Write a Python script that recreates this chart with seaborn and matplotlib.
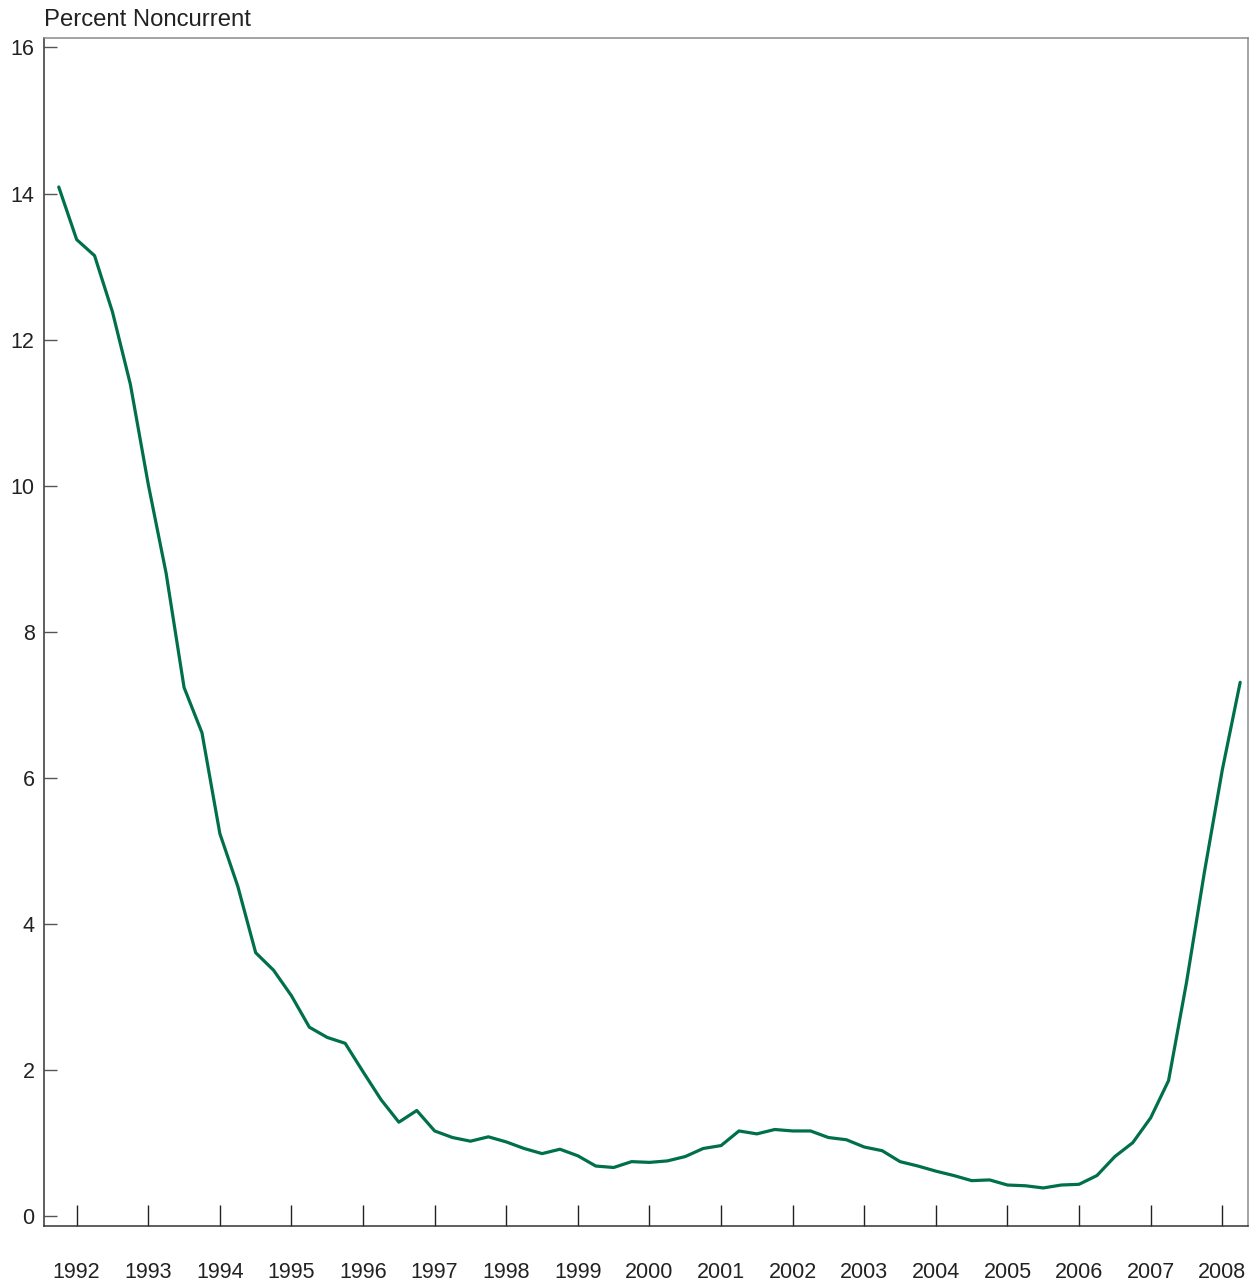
import numpy as np
import pandas as pd
import matplotlib
matplotlib.use("Agg")
import matplotlib.pyplot as plt
import seaborn as sns

# quarterly noncurrent rate, 1991Q4 .. 2008Q2
quarters = [1991.75 + 0.25 * i for i in range(67)]
noncurrent = [14.09, 13.37, 13.15, 12.38, 11.39, 10.02, 8.80, 7.24, 6.62, 5.24,
              4.52, 3.61, 3.37, 3.02, 2.59, 2.45, 2.37, 1.98, 1.60, 1.29,
              1.45, 1.17, 1.08, 1.03, 1.09, 1.02, 0.93, 0.86, 0.92, 0.83,
              0.69, 0.67, 0.75, 0.74, 0.76, 0.82, 0.93, 0.97, 1.17, 1.13,
              1.19, 1.17, 1.17, 1.08, 1.05, 0.95, 0.90, 0.75, 0.69, 0.62,
              0.56, 0.49, 0.50, 0.43, 0.42, 0.39, 0.43, 0.44, 0.56, 0.82,
              1.01, 1.35, 1.86, 3.20, 4.71, 6.11, 7.31]
years = list(range(1992, 2009))
yticks = [0, 2, 4, 6, 8, 10, 12, 14, 16]

df = pd.DataFrame({"date": quarters, "pct": noncurrent})

sns.set_theme(style="white")
plt.rcParams["font.family"] = ["Liberation Sans", "DejaVu Sans"]

fig = plt.figure(figsize=(12.59, 12.86), dpi=100)
ax = fig.add_axes([0.0353, 0.0467, 0.9560, 0.9238])

sns.lineplot(data=df, x="date", y="pct", ax=ax, color="#00704A", linewidth=2.3)

ax.set_xlim(1991.55, 2008.36)
ax.set_ylim(-0.13, 16.13)
ax.set_xticks(years)
ax.set_xticklabels([str(y) for y in years])
ax.set_yticks(yticks)
ax.set_yticklabels([str(v) for v in yticks])
ax.set_xlabel("")
ax.set_ylabel("")

ax.tick_params(axis="x", bottom=True, direction="in", length=15, width=1.0,
               color="#222222", pad=26, labelsize=15.5, labelcolor="#222222")
ax.tick_params(axis="y", left=True, direction="in", length=9.5, width=1.0,
               color="#555555", pad=7, labelsize=15.5, labelcolor="#222222")

for side in ["left", "bottom"]:
    ax.spines[side].set_color("#333333")
    ax.spines[side].set_linewidth(1.1)
for side in ["top", "right"]:
    ax.spines[side].set_color("#8a8a8a")
    ax.spines[side].set_linewidth(1.1)

ax.text(0.0, 1.0 + 12 / 1188, "Percent Noncurrent", transform=ax.transAxes,
        ha="left", va="baseline", fontsize=17.2, color="#222222")

fig.savefig("out.png", dpi=100)
